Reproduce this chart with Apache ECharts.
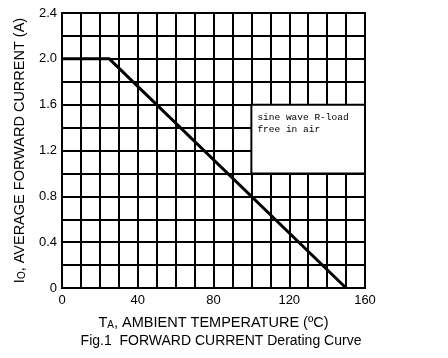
<!DOCTYPE html>
<html><head><meta charset="utf-8">
<script src="https://cdn.jsdelivr.net/npm/echarts@6/dist/echarts.min.js"></script>
<style>html,body{margin:0;padding:0;background:#fff}#c{width:448px;height:358px}</style>
</head><body><div id="c"></div>
<script>
var temperature = [0, 25, 150];
var current = [2.0, 2.0, 0];
var xTicks = [0, 40, 80, 120, 160];
var yTicks = ['0', '0.4', '0.8', '1.2', '1.6', '2.0', '2.4'];
var noteBox = [[100, 1.6], [160, 1.0]];
var noteText = 'sine wave R-load\nfree in air';

var chart = echarts.init(document.getElementById('c'));
var F = 'Liberation Sans, Arial, sans-serif';
chart.setOption({
  animation: false,
  backgroundColor: '#fff',
  grid: {left: 62, right: 83, top: 13, bottom: 70, show: true, borderColor: '#000', borderWidth: 2, backgroundColor: 'transparent'},
  title: {
    text: 'Fig.1  FORWARD CURRENT Derating Curve',
    left: 216, top: 329, textAlign: 'center',
    textStyle: {fontFamily: F, fontSize: 14, fontWeight: 'normal', color: '#000'}
  },
  xAxis: {
    type: 'value', min: 0, max: 160, interval: 10,
    axisLine: {show: true, lineStyle: {color: '#000', width: 2}},
    axisTick: {show: false},
    splitLine: {show: true, lineStyle: {color: '#000', width: 2}},
    axisLabel: {
      color: '#000', fontFamily: F, fontSize: 13, margin: 6,
      formatter: function (v) { return xTicks.indexOf(v) >= 0 ? String(v) : ''; }
    },
    name: '{n|T}{s|A}{n|, AMBIENT TEMPERATURE (ºC)}',
    nameLocation: 'middle', nameGap: 27,
    nameTextStyle: {
      rich: {
        n: {fontFamily: F, fontSize: 14.5, color: '#000'},
        s: {fontFamily: F, fontSize: 10, color: '#000', padding: [5, 0, 0, 0]}
      }
    }
  },
  yAxis: {
    type: 'value', min: 0, max: 2.4, interval: 0.2,
    axisLine: {show: true, lineStyle: {color: '#000', width: 2}},
    axisTick: {show: false},
    splitLine: {show: true, lineStyle: {color: '#000', width: 2}},
    axisLabel: {
      color: '#000', fontFamily: F, fontSize: 13, margin: 5,
      formatter: function (v) {
        var k = Math.round(v * 10);
        if (k % 4 !== 0) return '';
        var s = k === 0 ? '0' : (k / 10).toFixed(1);
        return yTicks.indexOf(s) >= 0 ? s : '';
      }
    },
    name: '{n|I}{s|O}{n|, AVERAGE FORWARD CURRENT (A)}',
    nameLocation: 'middle', nameGap: 35, nameRotate: 90,
    nameTextStyle: {
      rich: {
        n: {fontFamily: F, fontSize: 14.5, color: '#000'},
        s: {fontFamily: F, fontSize: 10, color: '#000', padding: [5, 0, 0, 0]}
      }
    }
  },
  series: [{
    type: 'line',
    data: temperature.map(function (t, i) { return [t, current[i]]; }),
    symbol: 'none',
    lineStyle: {color: '#000', width: 3},
    markArea: {
      silent: true,
      itemStyle: {color: '#fff', borderColor: '#000', borderWidth: 2},
      label: {
        show: true, position: 'insideTopLeft', distance: 0, padding: [8, 0, 0, 7],
        fontFamily: 'Liberation Mono, monospace', fontSize: 9.5, lineHeight: 12, color: '#000'
      },
      data: [[{coord: noteBox[0], name: noteText}, {coord: noteBox[1]}]]
    }
  }]
});
</script></body></html>
